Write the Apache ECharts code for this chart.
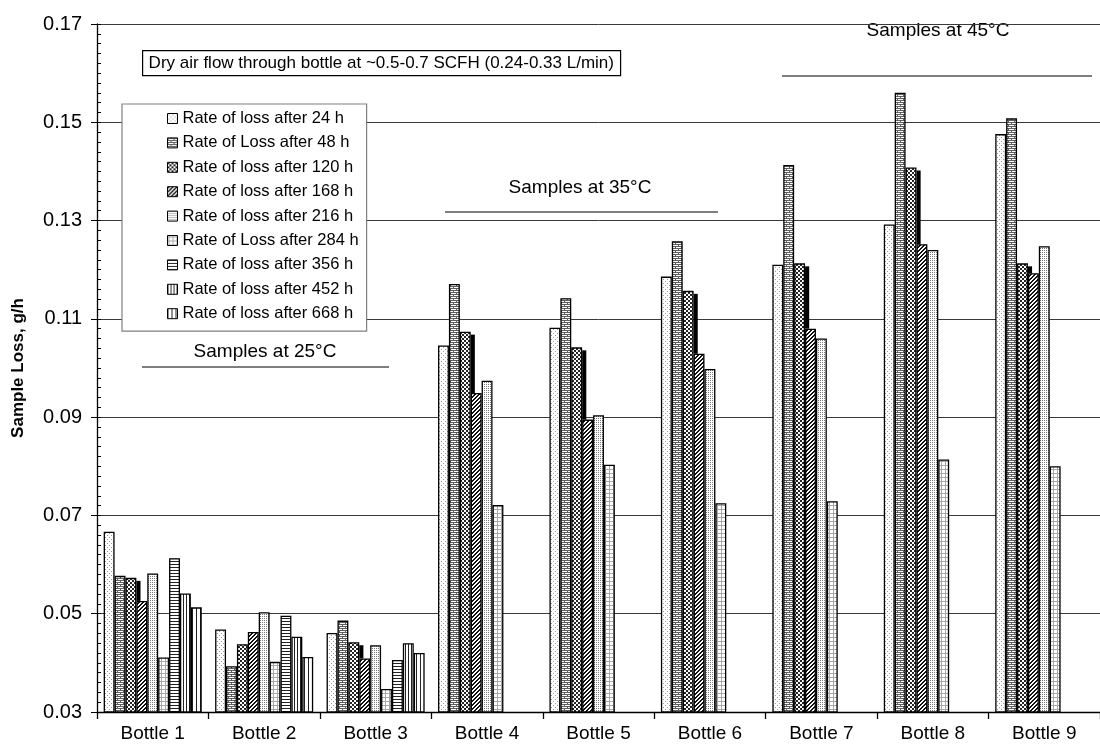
<!DOCTYPE html>
<html>
<head>
<meta charset="utf-8">
<script src="https://cdn.jsdelivr.net/npm/echarts@6/dist/echarts.min.js"></script>
<style>
  html, body { margin: 0; padding: 0; background: #fff; }
  #chart { width: 1100px; height: 752px; }
</style>
</head>
<body>
<div id="chart"></div>
<script>
// Bottles on the x axis
const bottles = ['Bottle 1', 'Bottle 2', 'Bottle 3', 'Bottle 4', 'Bottle 5',
                 'Bottle 6', 'Bottle 7', 'Bottle 8', 'Bottle 9'];

// Rate of sample loss (g/h) per bottle, one array per elapsed time
const loss24  = [0.0667, 0.0468, 0.0461, 0.1046, 0.1082, 0.1186, 0.1210, 0.1292, 0.1476];
const loss48  = [0.0577, 0.0393, 0.0486, 0.1171, 0.1142, 0.1258, 0.1413, 0.1560, 0.1508];
const loss120 = [0.0573, 0.0438, 0.0442, 0.1074, 0.1042, 0.1157, 0.1213, 0.1408, 0.1213];
const loss168 = [0.0526, 0.0463, 0.0409, 0.0949, 0.0895, 0.1029, 0.1080, 0.1252, 0.1193];
const loss216 = [0.0582, 0.0503, 0.0436, 0.0974, 0.0904, 0.0998, 0.1060, 0.1240, 0.1248];
const loss284 = [0.0411, 0.0402, 0.0347, 0.0721, 0.0803, 0.0725, 0.0729, 0.0814, 0.0800];
const loss356 = [0.0613, 0.0496, 0.0406, null, null, null, null, null, null];
const loss452 = [0.0541, 0.0453, 0.0440, null, null, null, null, null, null];
const loss668 = [0.0513, 0.0412, 0.0420, null, null, null, null, null, null];

const seriesNames = [
  'Rate of loss after 24 h', 'Rate of Loss after 48 h', 'Rate of loss after 120 h',
  'Rate of loss after 168 h', 'Rate of loss after 216 h', 'Rate of Loss after 284 h',
  'Rate of loss after 356 h', 'Rate of loss after 452 h', 'Rate of loss after 668 h'
];
const seriesData = [loss24, loss48, loss120, loss168, loss216, loss284, loss356, loss452, loss668];

// Y axis ticks
const yMin = 0.03, yMax = 0.17, yStep = 0.02;

// Small tiled fill patterns, one per series
function pattern(w, h, paint) {
  const c = document.createElement('canvas');
  c.width = w; c.height = h;
  const g = c.getContext('2d');
  g.fillStyle = '#fff';
  g.fillRect(0, 0, w, h);
  paint(g);
  return { image: c, repeat: 'repeat' };
}
function px(g, color, pts) {
  g.fillStyle = color;
  pts.forEach(p => g.fillRect(p[0], p[1], 1, 1));
}
const fills = [
  // sparse light dots
  pattern(4, 4, g => px(g, '#9a9a9a', [[1, 1], [3, 3]])),
  // brick
  pattern(6, 4, g => {
    g.fillStyle = '#5e5e5e';
    g.fillRect(0, 0, 6, 1); g.fillRect(0, 2, 6, 1);
    g.fillRect(0, 1, 1, 1); g.fillRect(3, 3, 1, 1);
  }),
  // checkerboard
  pattern(4, 4, g => {
    g.fillStyle = '#262626';
    g.fillRect(0, 0, 2, 2); g.fillRect(2, 2, 2, 2);
  }),
  // wide upward diagonal
  pattern(4, 4, g => {
    const pts = [];
    for (let x = 0; x < 4; x++) for (let y = 0; y < 4; y++) if ((x + y) % 4 < 2) pts.push([x, y]);
    px(g, '#111', pts);
  }),
  // fine dots
  pattern(2, 2, g => px(g, '#7a7a7a', [[0, 0]])),
  // small grid
  pattern(4, 4, g => {
    g.fillStyle = '#a8a8a8';
    g.fillRect(0, 1, 4, 1); g.fillRect(1, 0, 1, 4);
  }),
  // horizontal lines
  pattern(3, 3, g => { g.fillStyle = '#222'; g.fillRect(0, 0, 3, 1); }),
  // narrow vertical lines
  pattern(3, 3, g => { g.fillStyle = '#222'; g.fillRect(0, 0, 1, 3); }),
  // wider vertical lines
  pattern(4, 4, g => { g.fillStyle = '#222'; g.fillRect(0, 0, 1, 4); })
];

const GAP_RATIO = 0.12;  // share of a category left empty around its bar group

const barSeries = seriesNames.map((name, k) => ({
  name,
  type: 'bar',
  data: seriesData[k],
  barGap: '0%',
  barCategoryGap: (GAP_RATIO * 100) + '%',
  itemStyle: { color: fills[k], borderColor: '#000', borderWidth: 1.3 },
  emphasis: { disabled: true },
  animation: false
}));

// Dark edge drawn between the 120 h and 168 h bars of each bottle
const edgeData = bottles.map((b, i) => [i, loss120[i], loss168[i]]);
const edgeSeries = {
  type: 'custom',
  name: 'edge',
  data: edgeData,
  z: 3,
  animation: false,
  silent: true,
  renderItem(params, api) {
    const i = api.value(0);
    const catW = api.size([1, 0])[0];
    const cx = api.coord([i, yMin])[0];
    const bw = catW * (1 - GAP_RATIO) / 9;
    const x = cx - catW * (1 - GAP_RATIO) / 2 + 3 * bw;
    const yTop = api.coord([i, api.value(1)])[1] + 3;
    const yBot = api.coord([i, api.value(2)])[1];
    if (yBot <= yTop) return null;
    return {
      type: 'rect',
      shape: { x: x, y: yTop, width: bw * 0.38, height: yBot - yTop },
      style: { fill: '#000' }
    };
  }
};

const FONT = 'Liberation Sans, Arial, sans-serif';

const chart = echarts.init(document.getElementById('chart'), null, { renderer: 'canvas' });
chart.setOption({
  backgroundColor: '#fff',
  animation: false,
  textStyle: { fontFamily: FONT },
  grid: { left: 97, right: 0, top: 24, bottom: 40, containLabel: false },
  legend: {
    data: seriesNames,
    orient: 'vertical',
    left: 122,
    top: 104,
    backgroundColor: '#fff',
    borderColor: '#808080',
    borderWidth: 1.2,
    borderRadius: 0,
    padding: [6, 8, 9, 45],
    itemWidth: 10,
    itemHeight: 10,
    itemGap: 7.4,
    icon: 'rect',
    itemStyle: { borderColor: '#000', borderWidth: 1 },
    textStyle: { fontSize: 16.5, lineHeight: 16, width: 176, color: '#000', fontFamily: FONT },
    selectedMode: false
  },
  xAxis: {
    type: 'category',
    data: bottles,
    axisLine: { lineStyle: { color: '#000', width: 1.3 } },
    axisTick: { show: true, alignWithLabel: false, length: 7, lineStyle: { color: '#000', width: 1.3 } },
    axisLabel: { color: '#000', fontSize: 19, margin: 12, fontFamily: FONT },
    splitLine: { show: false }
  },
  yAxis: [{
    type: 'value',
    min: yMin,
    max: yMax,
    interval: yStep,
    name: 'Sample Loss, g/h',
    nameLocation: 'middle',
    nameRotate: 90,
    nameGap: 70,
    nameTextStyle: { fontSize: 17, fontWeight: 'bold', color: '#000', fontFamily: FONT },
    axisLine: { show: true, lineStyle: { color: '#000', width: 1.3 } },
    axisTick: { show: true, length: 6, lineStyle: { color: '#000', width: 1 } },
    axisLabel: { color: '#000', fontSize: 20, margin: 15, fontFamily: FONT,
                 formatter: v => v.toFixed(2) },
    splitLine: { show: true, lineStyle: { color: '#3a3a3a', width: 1 } }
  }, {
    // inward minor ticks
    type: 'value',
    position: 'left',
    min: yMin,
    max: yMax,
    interval: yStep / 10,
    axisLine: { show: false },
    axisTick: { show: true, inside: true, length: 4, lineStyle: { color: '#000', width: 1 } },
    axisLabel: { show: false },
    splitLine: { show: false }
  }],
  graphic: [
    {
      type: 'group', left: 142, top: 50, children: [
        { type: 'rect', shape: { x: 0, y: 0, width: 478, height: 25 },
          style: { fill: '#fff', stroke: '#000', lineWidth: 1.2 } },
        { type: 'text', x: 6, y: 13,
          style: { text: 'Dry air flow through bottle at ~0.5-0.7 SCFH (0.24-0.33 L/min)',
                   font: '17px ' + FONT, fill: '#000', verticalAlign: 'middle' } }
      ]
    },
    { type: 'text', x: 265, y: 352, style: { text: 'Samples at 25°C', font: '19px ' + FONT, fill: '#000', align: 'center', verticalAlign: 'middle' } },
    { type: 'line', shape: { x1: 142, y1: 367, x2: 389, y2: 367 }, style: { stroke: '#000', lineWidth: 1.2 } },
    { type: 'text', x: 580, y: 188, style: { text: 'Samples at 35°C', font: '19px ' + FONT, fill: '#000', align: 'center', verticalAlign: 'middle' } },
    { type: 'line', shape: { x1: 445, y1: 212, x2: 718, y2: 212 }, style: { stroke: '#000', lineWidth: 1.2 } },
    { type: 'text', x: 938, y: 31, style: { text: 'Samples at 45°C', font: '19px ' + FONT, fill: '#000', align: 'center', verticalAlign: 'middle' } },
    { type: 'line', shape: { x1: 782, y1: 76, x2: 1092, y2: 76 }, style: { stroke: '#000', lineWidth: 1.2 } }
  ],
  series: barSeries.concat([edgeSeries])
});
</script>
</body>
</html>
